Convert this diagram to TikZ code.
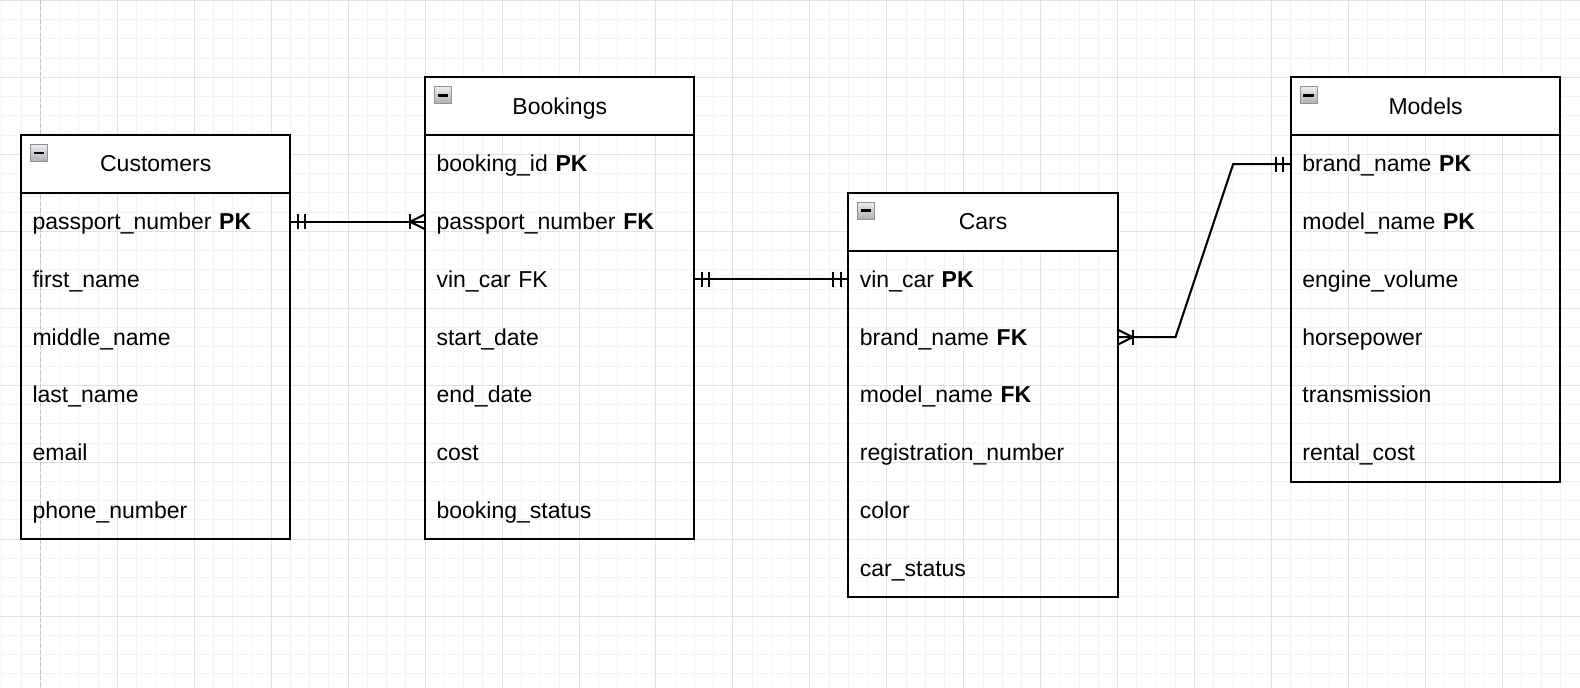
\documentclass[tikz,border=0pt]{standalone}
\usepackage{fontspec}
\setmainfont{Liberation Sans}
\definecolor{gridminor}{RGB}{243,243,243}
\definecolor{gridmajor}{RGB}{226,226,226}
\definecolor{pagebreak}{RGB}{195,195,195}
\definecolor{iconborder}{RGB}{138,147,166}
\definecolor{icontop}{RGB}{236,236,236}
\definecolor{iconbot}{RGB}{176,176,176}
\tikzset{
  hdr/.style={draw, fill=white, line width=2pt, anchor=north west, outer sep=0pt,
    minimum width=269.36pt, minimum height=57.72pt, inner sep=0pt,
    text height=20.8pt, text depth=4.9pt, font=\fontsize{23}{27}\selectfont},
  row/.style={anchor=north west, outer sep=0pt, minimum height=57.72pt,
    inner xsep=11.5pt, inner ysep=0pt, text width=246.36pt, align=left,
    text height=20.8pt, text depth=4.9pt, font=\fontsize{23}{27}\selectfont},
  frame/.style={draw, line width=2pt},
  conn/.style={draw, line width=2pt},
}
\newcommand\ericon[1]{%
  \coordinate (ic-#1) at ([xshift=9.3pt,yshift=-9.3pt]#1.north west);
  \draw[draw=iconborder, top color=icontop, bottom color=iconbot, line width=1.2pt]
    (ic-#1) rectangle ++(17pt,-17pt);
  \draw[line width=2.6pt] ([xshift=3.2pt,yshift=-8.5pt]ic-#1) -- ++(10.6pt,0pt);
}
\newcommand\ertable[6]{%
  \node[hdr] (#1) at (#2,#3) {#4};
  \foreach \r [count=\i] in {#6} {\node[row] (#1\i) at (#2,{#3+3*\i}) {\r};}
  \draw[frame] (#1.north west) rectangle (#1#5.south east);
  \ericon{#1}
}
\newcommand\mone[2]{%
  \draw[conn] ([xshift=#2*7.5pt,yshift=7.5pt]#1) -- ([xshift=#2*7.5pt,yshift=-7.5pt]#1);
  \draw[conn] ([xshift=#2*15pt,yshift=7.5pt]#1) -- ([xshift=#2*15pt,yshift=-7.5pt]#1);
}
\newcommand\crow[2]{%
  \draw[conn] ([xshift=#2*15pt,yshift=7.5pt]#1) -- ([xshift=#2*15pt,yshift=-7.5pt]#1);
  \draw[conn] ([yshift=7.5pt]#1) -- ([xshift=#2*15pt]#1) -- ([yshift=-7.5pt]#1);
}
\begin{document}
\begin{tikzpicture}[x=19.24pt, y=-19.24pt]
\useasboundingbox (-40.3pt,0.5pt) rectangle (1539.7pt,-687.5pt);
% grid
\foreach \k in {-2,-1,...,79}
  \draw[gridminor, line width=1pt] (\k*19.24pt,0.5pt) -- (\k*19.24pt,-687.5pt);
\foreach \k in {0,1,...,35}
  \draw[gridminor, line width=1pt] (-40.3pt,-\k*19.24pt) -- (1539.7pt,-\k*19.24pt);
\foreach \k in {0,4,...,79}
  \draw[gridmajor, line width=1pt] (\k*19.24pt,0.5pt) -- (\k*19.24pt,-687.5pt);
\foreach \k in {0,4,...,35}
  \draw[gridmajor, line width=1pt] (-40.3pt,-\k*19.24pt) -- (1539.7pt,-\k*19.24pt);
\draw[pagebreak, line width=1.2pt, dash pattern=on 4pt off 2.5pt] (0.2pt,0.5pt) -- (0.2pt,-687.5pt);
% tables
\ertable{cust}{-1}{7}{Customers}{6}{passport\_number \textbf{PK},first\_name,middle\_name,last\_name,email,phone\_number}
\ertable{book}{20}{4}{Bookings}{7}{booking\_id \textbf{PK},passport\_number \textbf{FK},vin\_car FK,start\_date,end\_date,cost,booking\_status}
\ertable{cars}{42}{10}{Cars}{6}{vin\_car \textbf{PK},brand\_name \textbf{FK},model\_name \textbf{FK},registration\_number,color,car\_status}
\ertable{mod}{65}{4}{Models}{6}{brand\_name \textbf{PK},model\_name \textbf{PK},engine\_volume,horsepower,transmission,rental\_cost}
% connectors
\draw[conn] (cust1.east) -- (book2.west);
\mone{cust1.east}{1}
\crow{book2.west}{-1}
\draw[conn] (book3.east) -- (cars1.west);
\mone{book3.east}{1}
\mone{cars1.west}{-1}
\coordinate (bend1) at (59,0);
\coordinate (bend2) at (62,0);
\draw[conn] (cars2.east) -- (cars2.east -| bend1) -- (mod1.west -| bend2) -- (mod1.west);
\crow{cars2.east}{1}
\mone{mod1.west}{-1}
\end{tikzpicture}
\end{document}
